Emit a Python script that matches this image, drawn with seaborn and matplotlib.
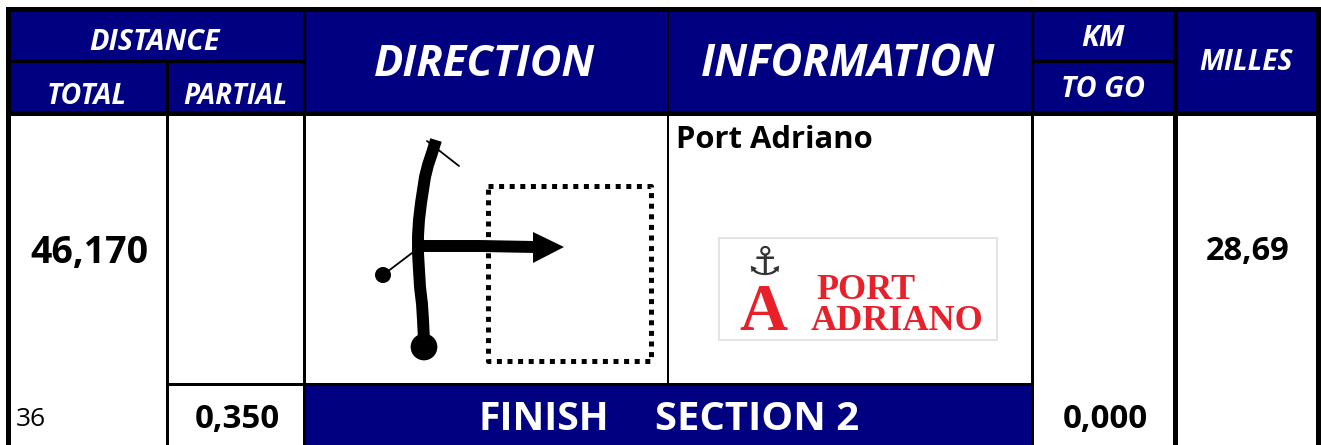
# Route card for the finish of section 2, laid out in pixels of the source image
import matplotlib
matplotlib.use("Agg")
import matplotlib.pyplot as plt
from matplotlib.patches import Rectangle, Polygon
import seaborn as sns

sns.set_theme(style="white")
plt.rcParams["font.family"] = ["Open Sans", "DejaVu Sans"]

NAVY = "#000080"
RED = "#e8202a"

# Values and labels
total_km = "46,170"
partial_km = "0,350"
to_go_km = "0,000"
milles = "28,69"
row_number = "36"
place = "Port Adriano"
banner_left = "FINISH"
banner_right = "SECTION 2"

# Road drawing
road_x = [436, 432, 428, 425, 423, 421, 419, 418, 418, 419, 420, 422, 423, 424]
road_y = [140, 153, 165, 177, 190, 203, 220, 236, 253, 270, 287, 304, 320, 340]
arm_x = [420, 480, 535]
arm_y = [246, 246, 247]
side_x = [383, 412]
side_y = [275, 253]
stub_x = [427, 459]
stub_y = [141, 166]
box_x = [488, 651, 651, 488, 488]
box_y = [186, 186, 361, 361, 186]
dots_x = [424, 383]
dots_y = [347, 275]
dots_size = [370, 133]

fig = plt.figure(figsize=(13.21, 4.45), dpi=100)
ax = fig.add_axes([0, 0, 1, 1])


def block(x0, y0, x1, y1, color="black"):
    ax.add_patch(Rectangle((x0, y0), x1 - x0, y1 - y0, facecolor=color, edgecolor="none", zorder=1))


def label(x, y, text, size, color="black", style="normal", weight="bold", **kw):
    ax.text(x, y, text, fontsize=size, color=color, style=style, weight=weight,
            ha=kw.pop("ha", "center"), va="center_baseline", zorder=6, **kw)


def path(xs, ys, width, **kw):
    sns.lineplot(x=xs, y=ys, sort=False, estimator=None, errorbar=None, ax=ax,
                 color="black", linewidth=width, **kw)


# Header band and grid lines
block(6, 7, 1321, 116)
for x0, y0, x1, y1 in [(11, 12, 303, 60), (11, 63, 166, 111), (169, 63, 303, 111),
                       (306, 12, 667, 111), (669, 12, 1031, 111),
                       (1034, 12, 1173, 60), (1034, 63, 1173, 111), (1178, 12, 1316, 111)]:
    block(x0, y0, x1, y1, NAVY)

block(6, 116, 11, 445)
block(166, 116, 169, 445)
block(303, 116, 306, 445)
block(667, 116, 669, 384)
block(1031, 116, 1034, 445)
block(1173, 116, 1178, 445)
block(1316, 116, 1321, 445)
block(166, 383, 1034, 386)
block(306, 386, 1031, 445, NAVY)

# Header text
label(155, 39, "DISTANCE", 20.8, "white", "italic")
label(87, 93, "TOTAL", 20.5, "white", "italic")
label(235, 93, "PARTIAL", 20, "white", "italic")
label(484, 59, "DIRECTION", 31.2, "white", "italic")
label(848, 59, "INFORMATION", 31.5, "white", "italic")
label(1103, 35, "KM", 21, "white", "italic")
label(1103, 86, "TO GO", 20.7, "white", "italic")
label(1246, 59, "MILLES", 20.3, "white", "italic")

# Body text
label(89, 248, total_km, 27)
label(1248, 248, milles, 23.5)
label(237, 416, partial_km, 23.8)
label(1105, 416, to_go_km, 23.8)
label(16, 417, row_number, 19, weight="normal", ha="left")
label(676, 137, place, 22.3, ha="left")
label(544, 415, banner_left, 28.2, "white")
label(757, 415, banner_right, 28.8, "white")

# Road diagram
path(box_x, box_y, 3.6, linestyle=(0, (1.0, 1.12)), zorder=2)
path(stub_x, stub_y, 1.3, zorder=3)
path(side_x, side_y, 1.3, zorder=3)
path(road_x, road_y, 8.6, solid_capstyle="butt", zorder=4)
path(arm_x, arm_y, 8.6, solid_capstyle="butt", zorder=4)
ax.add_patch(Polygon([(533, 232), (564, 247), (533, 263)], closed=True, color="black", lw=0, zorder=4))
sns.scatterplot(x=dots_x, y=dots_y, s=dots_size, ax=ax, color="black", linewidth=0, zorder=5)

# Logo
ax.add_patch(Rectangle((719, 238), 278, 102, facecolor="white", edgecolor="#e4e4e4", linewidth=1.4, zorder=2))
ax.text(764, 264, "\u2693", fontsize=29, color="#333333", family="DejaVu Sans",
        ha="center", va="center", zorder=5)
ax.text(763, 330, "A", fontsize=48, color=RED, family="Liberation Serif", weight="bold",
        ha="center", va="baseline", zorder=5)
ax.text(866, 299, "PORT", fontsize=26, color=RED, family="Liberation Serif", weight="bold",
        ha="center", va="baseline", zorder=5)
ax.text(897, 330, "ADRIANO", fontsize=26, color=RED, family="Liberation Serif", weight="bold",
        ha="center", va="baseline", zorder=5)

ax.set_xlim(0, 1321)
ax.set_ylim(445, 0)
ax.axis("off")
fig.savefig("out.png", dpi=100, facecolor="white")
